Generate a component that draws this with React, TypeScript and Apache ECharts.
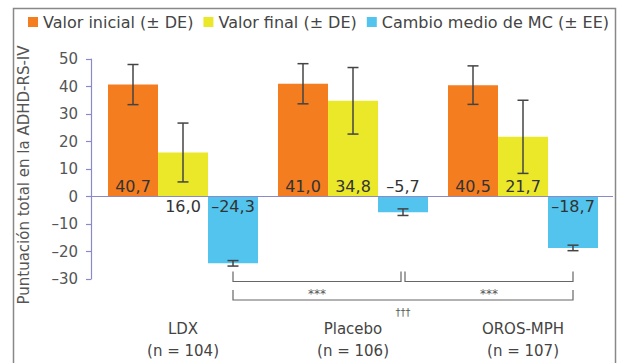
import React, { useEffect, useRef } from "react";
import * as echarts from "echarts";

const categories = ["LDX", "Placebo", "OROS-MPH"];
const sampleSizes = ["(n = 104)", "(n = 106)", "(n = 107)"];
const seriesNames = ["Valor inicial (± DE)", "Valor final (± DE)", "Cambio medio de MC (± EE)"];
const initialValues = [40.7, 41.0, 40.5];
const initialSD = [7.3, 7.3, 7.0];
const finalValues = [16.0, 34.8, 21.7];
const finalSD = [10.7, 12.1, 13.3];
const changeValues = [-24.3, -5.7, -18.7];
const changeSE = [1.0, 1.2, 1.0];
const yMin = -30;
const yMax = 50;
const yInterval = 10;
const yTitle = "Puntuación total en la ADHD-RS-IV";
// comparisons between change bars: [fromCategory, toCategory, row, label]
const comparisonFrom = [0, 1, 0];
const comparisonTo = [1, 2, 2];
const comparisonRow = [0, 0, 1];
const comparisonLabels = ["***", "***", "†††"];

// styles
const FONT = "DejaVu Sans";
const COLORS = ["#f47d20", "#ebe829", "#52c4ee"];
const BAR_W = 50;
const CAP = 11;
const AXIS_COLOR = "#8a8ac8";
const initialLabelPos = ["insideBottom", "insideBottom", "insideBottom"];
const finalLabelPos = ["bottom", "insideBottom", "insideBottom"];
const changeLabelPos = ["insideTop", "top", "insideTop"];
const ROW_OFFSET = [2.5, 21];

const fmt = (v: number) => v.toFixed(1).replace(".", ",").replace("-", "–");

function barSeries(idx: number, values: number[], positions: string[]) {
  return {
    type: "bar",
    name: seriesNames[idx],
    barWidth: BAR_W,
    barGap: "0%",
    itemStyle: { color: COLORS[idx] },
    data: values.map((v, i) => ({
      value: v,
      label: { position: positions[i] },
    })),
    label: {
      show: true,
      formatter: (p: any) => fmt(p.value),
      fontFamily: FONT,
      fontSize: 16,
      color: "#333",
      distance: 2,
    },
  };
}

function errorSeries(idx: number, values: number[], errs: number[]) {
  return {
    type: "custom",
    name: "err" + idx,
    silent: true,
    z: 10,
    data: values.map((v, i) => [i, v, errs[i]]),
    renderItem: (params: any, api: any) => {
      const i = api.value(0);
      const v = api.value(1);
      const e = api.value(2);
      const top = api.coord([i, v + e]);
      const bot = api.coord([i, v - e]);
      const x = top[0] + (idx - 1) * BAR_W;
      const style = { stroke: "#444", lineWidth: 1.5 };
      return {
        type: "group",
        children: [
          { type: "line", shape: { x1: x, y1: top[1], x2: x, y2: bot[1] }, style },
          { type: "line", shape: { x1: x - CAP / 2, y1: top[1], x2: x + CAP / 2, y2: top[1] }, style },
          { type: "line", shape: { x1: x - CAP / 2, y1: bot[1], x2: x + CAP / 2, y2: bot[1] }, style },
        ],
      };
    },
  };
}

export default function App() {
  const ref = useRef<HTMLDivElement>(null);
  useEffect(() => {
    if (!ref.current) return;
    const chart = echarts.init(ref.current, undefined, { renderer: "svg" });

    const bracketData = comparisonFrom.map((f, k) => {
      const t = comparisonTo[k];
      const row = comparisonRow[k];
      const shareF = comparisonRow.some((r, j) => j !== k && r === row && comparisonTo[j] === f);
      const shareT = comparisonRow.some((r, j) => j !== k && r === row && comparisonFrom[j] === t);
      return [f, t, row, shareF ? 1 : 0, shareT ? 1 : 0, k];
    });

    chart.setOption({
      animation: false,
      backgroundColor: "#fff",
      textStyle: { fontFamily: FONT },
      graphic: [
        {
          type: "rect",
          silent: true,
          shape: { x: 13.5, y: 8.5, width: 602, height: 400 },
          style: { fill: "none", stroke: "#888", lineWidth: 1.5 },
        },
      ],
      legend: {
        data: seriesNames,
        left: 28,
        top: 14,
        width: 590,
        padding: 0,
        itemWidth: 10,
        itemHeight: 10,
        itemGap: 10,
        icon: "rect",
        textStyle: { fontFamily: FONT, fontSize: 16, color: "#444" },
      },
      grid: { left: 98, width: 510, top: 59, height: 220 },
      xAxis: {
        type: "category",
        data: categories.map((c, i) => c + "\n" + sampleSizes[i]),
        axisLine: { show: false, onZero: false },
        axisTick: { show: false },
        splitLine: { show: false },
        axisLabel: {
          margin: 39,
          fontFamily: FONT,
          fontSize: 15,
          lineHeight: 22,
          color: "#444",
        },
      },
      yAxis: {
        type: "value",
        min: yMin,
        max: yMax,
        interval: yInterval,
        offset: 7,
        name: yTitle,
        nameLocation: "middle",
        nameGap: 60,
        nameTextStyle: { fontFamily: FONT, fontSize: 15, color: "#555", padding: [0, 12, 0, 0] },
        axisLine: { show: true, lineStyle: { color: AXIS_COLOR, width: 1.2 } },
        axisTick: { show: true, length: 5, lineStyle: { color: AXIS_COLOR, width: 1.2 } },
        splitLine: { show: false },
        axisLabel: {
          margin: 13,
          fontFamily: FONT,
          fontSize: 15,
          color: "#555",
          formatter: (v: number) => String(v).replace("-", "–"),
        },
      },
      series: [
        barSeries(0, initialValues, initialLabelPos),
        barSeries(1, finalValues, finalLabelPos),
        barSeries(2, changeValues, changeLabelPos),
        errorSeries(0, initialValues, initialSD),
        errorSeries(1, finalValues, finalSD),
        errorSeries(2, changeValues, changeSE),
        {
          type: "custom",
          name: "zeroLine",
          silent: true,
          z: 5,
          data: [[0, 0]],
          renderItem: (params: any, api: any) => {
            const cs = params.coordSys;
            const y0 = api.coord([0, 0])[1];
            return {
              type: "line",
              shape: { x1: cs.x - 7, y1: y0, x2: cs.x + cs.width + 5, y2: y0 },
              style: { stroke: AXIS_COLOR, lineWidth: 1.2 },
            };
          },
        },
        {
          type: "custom",
          name: "brackets",
          silent: true,
          z: 5,
          data: bracketData,
          renderItem: (params: any, api: any) => {
            const cs = params.coordSys;
            const f = api.value(0);
            const t = api.value(1);
            const row = api.value(2);
            const insF = api.value(3);
            const insT = api.value(4);
            const k = api.value(5);
            const x1 = api.coord([f, 0])[0] + BAR_W + (insF ? 2 : 0);
            const x2 = api.coord([t, 0])[0] + BAR_W - (insT ? 2 : 0);
            const y = cs.y + cs.height + ROW_OFFSET[row];
            const style = { stroke: "#666", lineWidth: 1.2, fill: "none" };
            return {
              type: "group",
              children: [
                {
                  type: "polyline",
                  shape: { points: [[x1, y - 10], [x1, y], [x2, y], [x2, y - 10]] },
                  style,
                },
                {
                  type: "text",
                  style: {
                    x: (x1 + x2) / 2,
                    y: y + 12,
                    text: comparisonLabels[k],
                    fontFamily: FONT,
                    fontSize: row === 0 ? 12 : 10,
                    fill: "#555",
                    align: "center",
                    verticalAlign: "middle",
                  },
                },
              ],
            };
          },
        },
      ],
    });
    return () => chart.dispose();
  }, []);
  return (
    <div
      ref={ref}
      style={{ position: "fixed", left: 0, top: 0, width: 619, height: 363 }}
    />
  );
}
